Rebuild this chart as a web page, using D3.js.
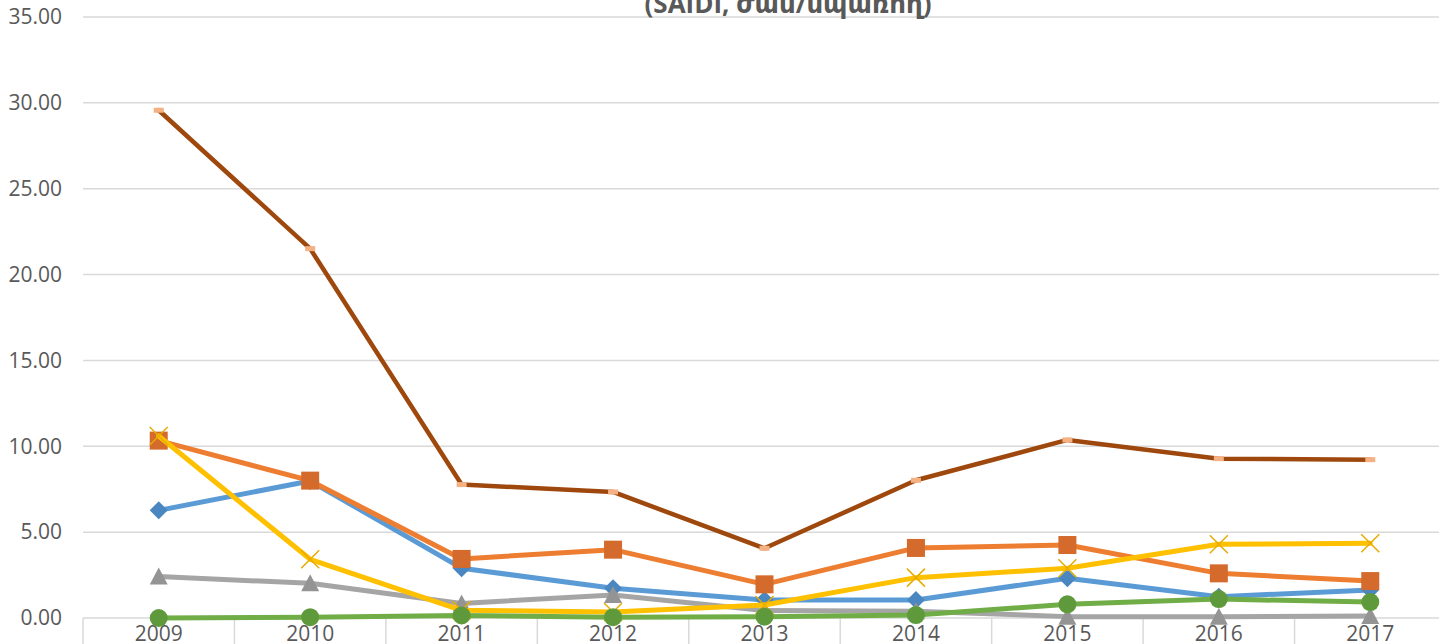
<!DOCTYPE html>
<html>
<head>
<meta charset="utf-8">
<script src="https://cdn.jsdelivr.net/npm/d3@7"></script>
<style>
  html, body { margin: 0; padding: 0; background: #fff; overflow: hidden; }
  svg { display: block; }
  .tick-label { font-family: "Open Sans", "DejaVu Sans", sans-serif; font-size: 21px; fill: #595959; }
  .title { font-family: "Open Sans", "DejaVu Sans", sans-serif; font-size: 26px; font-weight: bold; fill: #595959; }
</style>
</head>
<body>
<div id="chart"></div>
<script>
var years = ['2009', '2010', '2011', '2012', '2013', '2014', '2015', '2016', '2017'];
var yTicks = [0, 5, 10, 15, 20, 25, 30, 35];
var titleText = '(SAIDI, ժամ/սպառող)';

var blueValues   = [6.27, 7.98, 2.90, 1.73, 1.05, 1.05, 2.31, 1.24, 1.63];
var orangeValues = [10.33, 8.00, 3.44, 3.98, 1.96, 4.08, 4.25, 2.60, 2.15];
var grayValues   = [2.41, 2.02, 0.85, 1.34, 0.43, 0.40, 0.08, 0.08, 0.12];
var yellowValues = [10.60, 3.42, 0.45, 0.35, 0.76, 2.35, 2.90, 4.29, 4.35];
var greenValues  = [0.00, 0.05, 0.15, 0.05, 0.08, 0.17, 0.80, 1.10, 0.93];
var brownValues  = [29.57, 21.51, 7.77, 7.34, 4.06, 8.02, 10.37, 9.28, 9.22];

var series = [
  {name: 'blue',   values: blueValues,   line: '#5B9BD5', marker: '#4A86BF', shape: 'diamond'},
  {name: 'orange', values: orangeValues, line: '#ED7D31', marker: '#D46A2B', shape: 'square'},
  {name: 'gray',   values: grayValues,   line: '#A5A5A5', marker: '#949494', shape: 'triangle'},
  {name: 'yellow', values: yellowValues, line: '#FFC000', marker: '#E6AC00', shape: 'cross'},
  {name: 'green',  values: greenValues,  line: '#70AD47', marker: '#5E9A3C', shape: 'circle'},
  {name: 'brown',  values: brownValues,  line: '#9E480E', marker: '#F4B183', shape: 'dash'}
];

var width = 1439, height = 644;
var plot = {left: 83, right: 1446, top: 17, bottom: 618};

var svg = d3.select('#chart').append('svg')
  .attr('width', width)
  .attr('height', height);

var x = d3.scaleBand()
  .domain(years)
  .range([plot.left, plot.right])
  .padding(0);

var y = d3.scaleLinear()
  .domain([0, 35])
  .range([plot.bottom, plot.top]);

function cx(i) { return x(years[i]) + x.bandwidth() / 2; }

// horizontal gridlines
svg.append('g').selectAll('line')
  .data(yTicks)
  .enter().append('line')
  .attr('x1', plot.left).attr('x2', plot.right)
  .attr('y1', function(d) { return y(d); })
  .attr('y2', function(d) { return y(d); })
  .attr('stroke', '#D9D9D9')
  .attr('stroke-width', 1.5);

// category separators below the axis
svg.append('g').selectAll('line')
  .data(years.concat(['end']))
  .enter().append('line')
  .attr('x1', function(d, i) { return i < years.length ? x(d) : plot.right; })
  .attr('x2', function(d, i) { return i < years.length ? x(d) : plot.right; })
  .attr('y1', plot.bottom)
  .attr('y2', height)
  .attr('stroke', '#D9D9D9')
  .attr('stroke-width', 1.5);

// y labels
svg.append('g').selectAll('text')
  .data(yTicks)
  .enter().append('text')
  .attr('class', 'tick-label')
  .attr('x', 62)
  .attr('y', function(d) { return y(d); })
  .attr('dy', '0.35em')
  .attr('text-anchor', 'end')
  .text(function(d) { return d.toFixed(2); });

// x labels
svg.append('g').selectAll('text')
  .data(years)
  .enter().append('text')
  .attr('class', 'tick-label')
  .attr('x', function(d, i) { return cx(i); })
  .attr('y', 641)
  .attr('text-anchor', 'middle')
  .text(function(d) { return d; });

// title (top line is cut off in the original)
svg.append('text')
  .attr('class', 'title')
  .attr('x', 788)
  .attr('y', 13)
  .attr('text-anchor', 'middle')
  .text(titleText);

var line = d3.line()
  .x(function(d, i) { return cx(i); })
  .y(function(d) { return y(d); });

var layers = svg.append('g').selectAll('g')
  .data(series)
  .enter().append('g');

layers.append('path')
  .attr('d', function(s) { return line(s.values); })
  .attr('fill', 'none')
  .attr('stroke', function(s) { return s.line; })
  .attr('stroke-width', function(s) { return s.name === 'brown' ? 4.5 : 5; })
  .attr('stroke-linejoin', 'round')
  .attr('stroke-linecap', 'round');

layers.each(function(s) {
  var g = d3.select(this);
  s.values.forEach(function(v, i) {
    var px = cx(i), py = y(v);
    if (s.shape === 'diamond') {
      g.append('path')
        .attr('d', 'M0,-9L9,0L0,9L-9,0Z')
        .attr('transform', 'translate(' + px + ',' + py + ')')
        .attr('fill', s.marker);
    } else if (s.shape === 'square') {
      g.append('rect')
        .attr('x', px - 9).attr('y', py - 9)
        .attr('width', 18).attr('height', 18)
        .attr('fill', s.marker);
    } else if (s.shape === 'triangle') {
      g.append('path')
        .attr('d', 'M0,-9L9,8L-9,8Z')
        .attr('transform', 'translate(' + px + ',' + py + ')')
        .attr('fill', s.marker);
    } else if (s.shape === 'cross') {
      g.append('path')
        .attr('d', 'M-9,-9L9,9M9,-9L-9,9')
        .attr('transform', 'translate(' + px + ',' + py + ')')
        .attr('stroke', s.marker)
        .attr('stroke-width', 1.5);
    } else if (s.shape === 'circle') {
      g.append('circle')
        .attr('cx', px).attr('cy', py).attr('r', 9)
        .attr('fill', s.marker);
    } else if (s.shape === 'dash') {
      g.append('rect')
        .attr('x', px - 5).attr('y', py - 2.5)
        .attr('width', 10).attr('height', 5)
        .attr('fill', s.marker);
    }
  });
});
</script>
</body>
</html>
